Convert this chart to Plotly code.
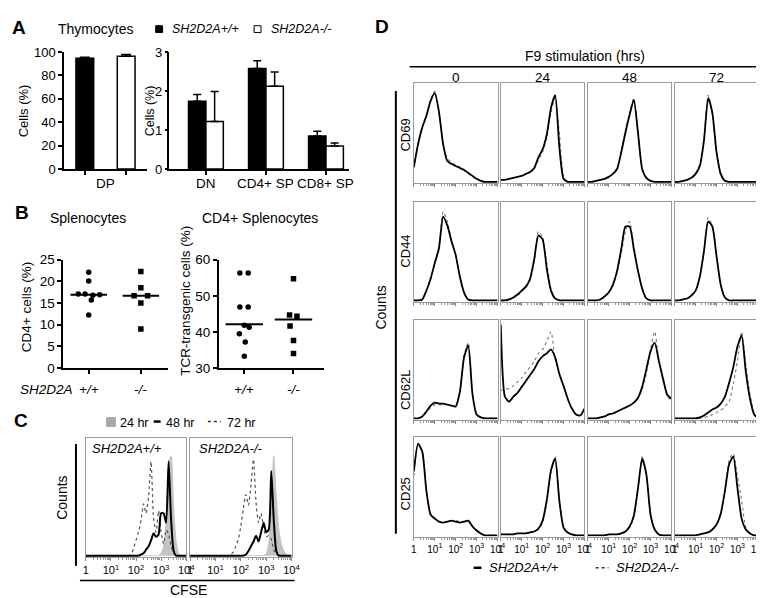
import plotly.graph_objects as go

W, H = 764, 598
FONT = "Liberation Sans, Arial, sans-serif"

# ---------------- Panel A data ----------------
a1_groups = ["DP"]
a1_wt = [94.8]
a1_wt_err = [0.7]
a1_ko = [96.4]
a1_ko_err = [1.4]
a1_ticks = [0, 20, 40, 60, 80, 100]

a2_groups = ["DN", "CD4+ SP", "CD8+ SP"]
a2_wt = [1.74, 2.58, 0.85]
a2_wt_err = [0.17, 0.20, 0.12]
a2_ko = [1.22, 2.12, 0.59]
a2_ko_err = [0.77, 0.37, 0.08]
a2_ticks = [0, 1, 2, 3]

# ---------------- Panel B data ----------------
b_genotypes = ["+/+", "-/-"]
b1_wt = [22.1, 20.1, 17.1, 17.1, 16.8, 16.9, 15.7, 12.2]
b1_wt_jit = [0.0, 0.0, -0.2, -0.07, 0.08, 0.21, 0.05, 0.0]
b1_ko = [22.3, 18.5, 16.7, 16.7, 15.0, 9.0]
b1_ko_jit = [0.0, 0.0, -0.13, 0.13, 0.0, 0.0]
b1_medians = [16.9, 16.7]
b1_ticks = [0, 5, 10, 15, 20, 25]

b2_wt = [56.3, 56.3, 46.9, 46.9, 41.8, 41.3, 39.5, 37.2, 33.2]
b2_wt_jit = [-0.09, 0.08, -0.09, 0.08, 0.0, 0.1, -0.1, 0.02, 0.0]
b2_ko = [54.7, 44.7, 44.3, 41.6, 37.6, 34.0]
b2_ko_jit = [0.0, -0.08, 0.07, -0.07, 0.0, 0.0]
b2_medians = [42.1, 43.4]
b2_ticks = [30, 40, 50, 60]

# ---------------- Panel C data (CFSE histograms, log10 scale) ----------------
c_x = [0.0, 0.1, 0.2, 0.3, 0.4, 0.5, 0.6, 0.7, 0.8, 0.9, 1.0, 1.1, 1.2, 1.3, 1.4,
       1.5, 1.6, 1.7, 1.8, 1.9, 2.0, 2.1, 2.2, 2.3, 2.4, 2.5, 2.6, 2.7, 2.8, 2.9,
       3.0, 3.1, 3.2, 3.3, 3.4, 3.5, 3.6, 3.7, 3.8, 3.9, 4.0]
c_wt_24 = [0, 0, 0, 0, 0, 0, 0, 0, 0, 0, 0, 0, 0, 0, 0, 0, 0, 0, 0, 0, 0, 0, 0, 0, 0, 0, 0, 0, 0, 0,
           0.02, 0.08, 0.30, 0.80, 0.85, 0.42, 0.12, 0.02, 0, 0, 0]
c_wt_48 = [0, 0, 0, 0, 0, 0, 0, 0, 0, 0, 0, 0, 0, 0, 0, 0, 0, 0, 0, 0, 0, 0,
           0.01, 0.02, 0.05, 0.08, 0.13, 0.19, 0.16, 0.18, 0.36, 0.36, 0.28, 0.80, 0.30, 0.04, 0, 0, 0, 0, 0]
c_wt_72 = [0, 0, 0, 0, 0, 0, 0, 0, 0, 0, 0, 0, 0, 0, 0, 0, 0, 0,
           0.01, 0.06, 0.13, 0.20, 0.30, 0.44, 0.36, 0.50, 0.80, 0.32, 0.20, 0.38, 0.20, 0.10,
           0.22, 0.18, 0.08, 0.02, 0, 0, 0, 0, 0]
c_ko_24 = [0, 0, 0, 0, 0, 0, 0, 0, 0, 0, 0, 0, 0, 0, 0, 0, 0, 0, 0, 0, 0, 0, 0, 0, 0, 0, 0, 0, 0, 0,
           0.02, 0.10, 0.45, 0.85, 0.50, 0.22, 0.10, 0.04, 0.01, 0, 0]
c_ko_48 = [0, 0, 0, 0, 0, 0, 0, 0, 0, 0, 0, 0, 0, 0, 0, 0, 0, 0, 0, 0, 0, 0,
           0.01, 0.04, 0.08, 0.12, 0.17, 0.12, 0.20, 0.28, 0.20, 0.22, 0.72, 0.30, 0.04, 0, 0, 0, 0, 0, 0]
c_ko_72 = [0, 0, 0, 0, 0, 0, 0, 0, 0, 0, 0, 0, 0, 0, 0, 0,
           0.01, 0.03, 0.08, 0.14, 0.25, 0.40, 0.52, 0.43, 0.60, 0.82, 0.45, 0.28, 0.36, 0.24,
           0.16, 0.17, 0.14, 0.05, 0.01, 0, 0, 0, 0, 0, 0]
c_tick_text = ["1", "10<sup>1</sup>", "10<sup>2</sup>", "10<sup>3</sup>", "10<sup>4</sup>"]

# ---------------- Panel D data (F9 stimulation histograms, log10 scale) ----------------
d_x = [0.0, 0.2, 0.4, 0.6, 0.8, 1.0, 1.2, 1.4, 1.6, 1.8, 2.0, 2.2, 2.4, 2.6, 2.8, 3.0, 3.2, 3.4, 3.6, 3.8, 4.0]
d_times = ["0", "24", "48", "72"]
d_markers = ["CD69", "CD44", "CD62L", "CD25"]

cd69_0_wt = [0.15, 0.38, 0.55, 0.67, 0.82, 0.90, 0.71, 0.38, 0.21, 0.18, 0.16, 0.14, 0.12, 0.09, 0.06, 0.03, 0.01, 0, 0, 0, 0]
cd69_0_ko = [0.14, 0.40, 0.56, 0.68, 0.84, 0.92, 0.70, 0.40, 0.23, 0.20, 0.17, 0.15, 0.12, 0.09, 0.06, 0.03, 0.01, 0, 0, 0, 0]
cd69_24_wt = [0.02, 0.02, 0.03, 0.04, 0.05, 0.06, 0.08, 0.10, 0.14, 0.25, 0.33, 0.48, 0.75, 0.88, 0.35, 0.03, 0, 0, 0, 0, 0]
cd69_24_ko = [0.02, 0.02, 0.03, 0.04, 0.05, 0.06, 0.08, 0.10, 0.13, 0.22, 0.30, 0.45, 0.70, 0.85, 0.50, 0.06, 0, 0, 0, 0, 0]
cd69_48_wt = [0, 0, 0.01, 0.02, 0.03, 0.05, 0.08, 0.13, 0.30, 0.50, 0.68, 0.83, 0.50, 0.13, 0.04, 0.01, 0, 0, 0, 0, 0]
cd69_48_ko = [0, 0, 0.01, 0.02, 0.03, 0.05, 0.08, 0.14, 0.32, 0.52, 0.70, 0.85, 0.48, 0.12, 0.04, 0.01, 0, 0, 0, 0, 0]
cd69_72_wt = [0, 0, 0.01, 0.02, 0.04, 0.08, 0.16, 0.42, 0.85, 0.70, 0.30, 0.08, 0.01, 0, 0, 0, 0, 0, 0, 0, 0]
cd69_72_ko = [0, 0, 0.01, 0.02, 0.04, 0.09, 0.18, 0.45, 0.88, 0.68, 0.28, 0.07, 0.01, 0, 0, 0, 0, 0, 0, 0, 0]

cd44_0_wt = [0, 0, 0.01, 0.10, 0.22, 0.38, 0.53, 0.85, 0.76, 0.60, 0.46, 0.24, 0.08, 0.01, 0, 0, 0, 0, 0, 0, 0]
cd44_0_ko = [0, 0, 0.01, 0.10, 0.22, 0.38, 0.55, 0.90, 0.80, 0.62, 0.46, 0.24, 0.08, 0.01, 0, 0, 0, 0, 0, 0, 0]
cd44_24_wt = [0, 0, 0.01, 0.03, 0.06, 0.10, 0.14, 0.22, 0.42, 0.66, 0.62, 0.32, 0.10, 0.02, 0, 0, 0, 0, 0, 0, 0]
cd44_24_ko = [0, 0, 0.01, 0.03, 0.05, 0.09, 0.13, 0.20, 0.40, 0.70, 0.64, 0.38, 0.12, 0.02, 0, 0, 0, 0, 0, 0, 0]
cd44_48_wt = [0, 0, 0, 0.01, 0.04, 0.08, 0.16, 0.30, 0.52, 0.75, 0.75, 0.52, 0.30, 0.12, 0.02, 0, 0, 0, 0, 0, 0]
cd44_48_ko = [0, 0, 0, 0.01, 0.04, 0.08, 0.15, 0.28, 0.48, 0.70, 0.80, 0.55, 0.30, 0.12, 0.02, 0, 0, 0, 0, 0, 0]
cd44_72_wt = [0, 0, 0.01, 0.02, 0.05, 0.10, 0.24, 0.50, 0.80, 0.75, 0.45, 0.16, 0.03, 0, 0, 0, 0, 0, 0, 0, 0]
cd44_72_ko = [0, 0, 0.01, 0.02, 0.05, 0.10, 0.24, 0.50, 0.84, 0.75, 0.44, 0.16, 0.03, 0, 0, 0, 0, 0, 0, 0, 0]

cd62l_0_wt = [0, 0, 0.02, 0.07, 0.13, 0.16, 0.15, 0.15, 0.14, 0.13, 0.12, 0.27, 0.62, 0.74, 0.25, 0.04, 0.01, 0, 0, 0, 0]
cd62l_0_ko = [0, 0, 0.02, 0.06, 0.11, 0.14, 0.14, 0.14, 0.14, 0.13, 0.13, 0.28, 0.64, 0.77, 0.26, 0.04, 0.01, 0, 0, 0, 0]
cd62l_24_wt = [0.95, 0.22, 0.17, 0.22, 0.26, 0.32, 0.38, 0.44, 0.50, 0.58, 0.63, 0.66, 0.70, 0.62, 0.45, 0.33, 0.20, 0.10, 0.04, 0.03, 0.10]
cd62l_24_ko = [0.28, 0.30, 0.30, 0.33, 0.37, 0.41, 0.47, 0.52, 0.58, 0.66, 0.70, 0.78, 0.88, 0.60, 0.46, 0.33, 0.20, 0.10, 0.04, 0.03, 0.08]
cd62l_48_wt = [0, 0, 0, 0.01, 0.02, 0.04, 0.05, 0.07, 0.09, 0.11, 0.13, 0.16, 0.21, 0.32, 0.50, 0.68, 0.77, 0.58, 0.40, 0.24, 0.20]
cd62l_48_ko = [0, 0, 0, 0.01, 0.02, 0.04, 0.05, 0.07, 0.09, 0.11, 0.13, 0.16, 0.20, 0.30, 0.45, 0.70, 0.88, 0.58, 0.38, 0.22, 0.18]
cd62l_72_wt = [0, 0, 0, 0, 0, 0, 0.01, 0.03, 0.06, 0.09, 0.11, 0.15, 0.22, 0.36, 0.52, 0.73, 0.84, 0.47, 0.20, 0.04, 0]
cd62l_72_ko = [0, 0, 0, 0, 0, 0, 0, 0.01, 0.02, 0.04, 0.06, 0.08, 0.12, 0.17, 0.35, 0.58, 0.88, 0.55, 0.25, 0.05, 0]

cd25_0_wt = [0.65, 0.93, 0.85, 0.45, 0.21, 0.17, 0.14, 0.13, 0.14, 0.15, 0.14, 0.13, 0.14, 0.15, 0.09, 0.05, 0.02, 0, 0, 0, 0]
cd25_0_ko = [0.60, 0.92, 0.86, 0.46, 0.22, 0.17, 0.14, 0.13, 0.14, 0.15, 0.15, 0.14, 0.14, 0.15, 0.10, 0.05, 0.02, 0, 0, 0, 0]
cd25_24_wt = [0.01, 0.01, 0.01, 0.01, 0.02, 0.02, 0.02, 0.03, 0.04, 0.07, 0.15, 0.36, 0.66, 0.78, 0.35, 0.08, 0.03, 0.01, 0, 0, 0]
cd25_24_ko = [0.01, 0.01, 0.01, 0.01, 0.02, 0.02, 0.02, 0.03, 0.04, 0.06, 0.13, 0.33, 0.64, 0.80, 0.38, 0.08, 0.03, 0.01, 0, 0, 0]
cd25_48_wt = [0, 0, 0, 0, 0, 0.01, 0.01, 0.01, 0.02, 0.04, 0.09, 0.20, 0.48, 0.78, 0.62, 0.21, 0.06, 0.01, 0, 0, 0]
cd25_48_ko = [0, 0, 0, 0, 0, 0.01, 0.01, 0.01, 0.02, 0.04, 0.08, 0.19, 0.46, 0.80, 0.62, 0.20, 0.06, 0.01, 0, 0, 0]
cd25_72_wt = [0, 0, 0, 0, 0, 0, 0.01, 0.02, 0.03, 0.06, 0.11, 0.22, 0.45, 0.72, 0.80, 0.48, 0.17, 0.06, 0.02, 0, 0]
cd25_72_ko = [0, 0, 0, 0, 0, 0, 0.01, 0.02, 0.03, 0.06, 0.11, 0.22, 0.44, 0.76, 0.83, 0.60, 0.35, 0.08, 0.02, 0, 0]

d_table = [
    [(cd69_0_wt, cd69_0_ko), (cd69_24_wt, cd69_24_ko), (cd69_48_wt, cd69_48_ko), (cd69_72_wt, cd69_72_ko)],
    [(cd44_0_wt, cd44_0_ko), (cd44_24_wt, cd44_24_ko), (cd44_48_wt, cd44_48_ko), (cd44_72_wt, cd44_72_ko)],
    [(cd62l_0_wt, cd62l_0_ko), (cd62l_24_wt, cd62l_24_ko), (cd62l_48_wt, cd62l_48_ko), (cd62l_72_wt, cd62l_72_ko)],
    [(cd25_0_wt, cd25_0_ko), (cd25_24_wt, cd25_24_ko), (cd25_48_wt, cd25_48_ko), (cd25_72_wt, cd25_72_ko)],
]

# ---------------- figure scaffolding ----------------
fig = go.Figure()
layout = dict(width=W, height=H, margin=dict(l=0, r=0, t=0, b=0),
              paper_bgcolor="white", plot_bgcolor="rgba(0,0,0,0)",
              showlegend=False, barmode="overlay",
              font=dict(family=FONT, color="black", size=12))
annotations = []
shapes = []
_n = [0]


def new_axes(x0, x1, y0, y1, xopts, yopts):
    _n[0] += 1
    s = "" if _n[0] == 1 else str(_n[0])
    layout["xaxis" + s] = dict(domain=[x0 / W, x1 / W], anchor="y" + s, **xopts)
    layout["yaxis" + s] = dict(domain=[1 - y1 / H, 1 - y0 / H], anchor="x" + s, **yopts)
    return "x" + s, "y" + s


def ann(text, x, y, size=13, bold=False, italic=False, angle=0, xanchor="center", xref="paper"):
    if bold:
        text = "<b>" + text + "</b>"
    if italic:
        text = "<i>" + text + "</i>"
    annotations.append(dict(text=text, x=(x / W if xref == "paper" else x), y=1 - y / H,
                            xref=xref, yref="paper", showarrow=False, textangle=angle,
                            xanchor=xanchor, yanchor="middle",
                            font=dict(family=FONT, size=size, color="black")))


def pline(x0, y0, x1, y1, color="black", width=1.5, dash="solid"):
    shapes.append(dict(type="line", xref="paper", yref="paper", x0=x0 / W, x1=x1 / W,
                       y0=1 - y0 / H, y1=1 - y1 / H, line=dict(color=color, width=width, dash=dash)))


def prect(x0, y0, x1, y1, fill, line="black"):
    shapes.append(dict(type="rect", xref="paper", yref="paper", x0=x0 / W, x1=x1 / W,
                       y0=1 - y1 / H, y1=1 - y0 / H, fillcolor=fill, line=dict(color=line, width=1)))


AX = dict(showline=True, linecolor="black", linewidth=1.5, ticks="outside", ticklen=4,
          tickwidth=1.5, tickcolor="black", showgrid=False, zeroline=False)

# ================= Panel A =================
xa, ya = new_axes(54, 138, 38, 158,
                  dict(AX, range=[-0.5, 1.5], tickvals=[0, 1], showticklabels=False),
                  dict(AX, range=[0, 100], tickvals=a1_ticks, tickfont=dict(size=13)))
fig.add_trace(go.Bar(x=[0], y=a1_wt, width=0.43, xaxis=xa, yaxis=ya,
                     marker=dict(color="black", line=dict(color="black", width=1.5)),
                     error_y=dict(type="data", symmetric=False, array=a1_wt_err, arrayminus=[0],
                                  color="black", thickness=1.5, width=5)))
fig.add_trace(go.Bar(x=[1], y=a1_ko, width=0.43, xaxis=xa, yaxis=ya,
                     marker=dict(color="white", line=dict(color="black", width=1.5)),
                     error_y=dict(type="data", symmetric=False, array=a1_ko_err, arrayminus=[0],
                                  color="black", thickness=1.5, width=5)))
ann(a1_groups[0], 96, 173, 13.5)

xa, ya = new_axes(161, 343, 38, 158,
                  dict(AX, type="category", range=[-0.607, 2.377], showticklabels=False),
                  dict(AX, range=[0, 3], tickvals=a2_ticks, ticklen=3, tickfont=dict(size=13)))
bw = 0.29
fig.add_trace(go.Bar(x=a2_groups, y=a2_wt, width=bw, offset=-bw, xaxis=xa, yaxis=ya,
                     marker=dict(color="black", line=dict(color="black", width=1.5)),
                     error_y=dict(type="data", symmetric=False, array=a2_wt_err, arrayminus=[0, 0, 0],
                                  color="black", thickness=1.5, width=4)))
fig.add_trace(go.Bar(x=a2_groups, y=a2_ko, width=bw, offset=0, xaxis=xa, yaxis=ya,
                     marker=dict(color="white", line=dict(color="black", width=1.5)),
                     error_y=dict(type="data", symmetric=False, array=a2_ko_err, arrayminus=[0, 0, 0],
                                  color="black", thickness=1.5, width=4)))
for i, g in enumerate(a2_groups):
    ann(g, 198 + 61 * i, 173, 13.5)

ann("A", 8, 13, 19, bold=True)
ann("Thymocytes", 86, 14, 14)
prect(147, 11, 154, 18, "black")
ann("SH2D2A+/+", 162, 14, 12.5, italic=True, xanchor="left")
prect(247, 11, 254, 18, "white")
ann("SH2D2A-/-", 262, 14, 12.5, italic=True, xanchor="left")
ann("Cells (%)", 13, 98, 13, angle=-90)
ann("Cells (%)", 141, 98, 12.5, angle=-90)

# ================= Panel B =================
xa, ya = new_axes(53, 160, 251, 362,
                  dict(AX, range=[-0.49, 1.53], tickvals=[0, 1], showticklabels=False),
                  dict(AX, range=[0, 25], tickvals=b1_ticks, tickfont=dict(size=13.5)))
fig.add_trace(go.Scatter(x=[0 + j for j in b1_wt_jit], y=b1_wt, mode="markers", xaxis=xa, yaxis=ya,
                         marker=dict(symbol="circle", size=5.5, color="black")))
fig.add_trace(go.Scatter(x=[1 + j for j in b1_ko_jit], y=b1_ko, mode="markers", xaxis=xa, yaxis=ya,
                         marker=dict(symbol="square", size=5.5, color="black")))
for i, m in enumerate(b1_medians):
    fig.add_trace(go.Scatter(x=[i - 0.35, i + 0.35], y=[m, m], mode="lines", xaxis=xa, yaxis=ya,
                             line=dict(color="black", width=2)))
for i, g in enumerate(b_genotypes):
    annotations.append(dict(text="<i>" + g + "</i>", x=i, y=1 - 384 / H, xref=xa, yref="paper",
                            showarrow=False, font=dict(family=FONT, size=13.5, color="black")))

xa, ya = new_axes(211, 318, 251, 362,
                  dict(AX, range=[-0.52, 1.62], tickvals=[0, 1], showticklabels=False),
                  dict(AX, range=[30, 60], tickvals=b2_ticks, tickfont=dict(size=13.5)))
fig.add_trace(go.Scatter(x=[0 + j for j in b2_wt_jit], y=b2_wt, mode="markers", xaxis=xa, yaxis=ya,
                         marker=dict(symbol="circle", size=5.5, color="black")))
fig.add_trace(go.Scatter(x=[1 + j for j in b2_ko_jit], y=b2_ko, mode="markers", xaxis=xa, yaxis=ya,
                         marker=dict(symbol="square", size=5.5, color="black")))
for i, m in enumerate(b2_medians):
    fig.add_trace(go.Scatter(x=[i - 0.38, i + 0.38], y=[m, m], mode="lines", xaxis=xa, yaxis=ya,
                             line=dict(color="black", width=2)))
for i, g in enumerate(b_genotypes):
    annotations.append(dict(text="<i>" + g + "</i>", x=i, y=1 - 384 / H, xref=xa, yref="paper",
                            showarrow=False, font=dict(family=FONT, size=13.5, color="black")))

ann("B", 11, 203, 19, bold=True)
ann("Splenocytes", 78, 208, 14)
ann("CD4+ Splenocytes", 253, 208, 14)
ann("CD4+ cells (%)", 16, 300, 13.5, angle=-90)
ann("TCR-transgenic cells (%)", 177, 293, 13.5, angle=-90)
ann("SH2D2A", 36, 384, 13.5, italic=True)

# ================= histogram axis styles =================
minor_vals = []
for d in range(4):
    for k in [0.301, 0.477, 0.602, 0.699, 0.778, 0.845, 0.903, 0.954]:
        minor_vals.append(d + k)


def hist_x(labels, tsize):
    opts = dict(range=[0, 4], showline=True, mirror=True, linecolor="#9a9a9a", linewidth=1,
                showgrid=False, zeroline=False, ticks="outside", ticklen=3, tickcolor="#8a8a8a",
                tickvals=[0, 1, 2, 3, 4], showticklabels=labels,
                minor=dict(tickvals=minor_vals, ticks="outside", ticklen=2, tickcolor="#9a9a9a"))
    if labels:
        opts["ticktext"] = c_tick_text
        opts["tickfont"] = dict(size=tsize)
    return opts


HY = dict(range=[-0.012, 1.0], showline=True, mirror=True, linecolor="#9a9a9a", linewidth=1,
          showgrid=False, zeroline=False, showticklabels=False, ticks="")

# ================= Panel C =================
c_boxes = [(76, 178), (182, 285)]
c_series = [(c_wt_24, c_wt_48, c_wt_72), (c_ko_24, c_ko_48, c_ko_72)]
for (x0, x1), (s24, s48, s72) in zip(c_boxes, c_series):
    xa, ya = new_axes(x0, x1, 434, 556, hist_x(True, 11), HY)
    fig.add_trace(go.Scatter(x=c_x, y=s24, mode="lines", xaxis=xa, yaxis=ya, fill="tozeroy",
                             fillcolor="#c4c4c4", line=dict(color="#bdbdbd", width=0.8, shape="spline", smoothing=0.6)))
    fig.add_trace(go.Scatter(x=c_x, y=s72, mode="lines", xaxis=xa, yaxis=ya,
                             line=dict(color="#555555", width=1.2, dash="dot", shape="spline", smoothing=0.6)))
    fig.add_trace(go.Scatter(x=c_x, y=s48, mode="lines", xaxis=xa, yaxis=ya,
                             line=dict(color="black", width=2, shape="spline", smoothing=0.6)))

ann("C", 10, 416, 19, bold=True)
prect(97, 413, 106, 422, "#a8a8a8", line="#a8a8a8")
ann("24 hr", 109, 418, 12.5, xanchor="left")
pline(145, 417, 152, 417, width=2.5)
ann("48 hr", 155, 418, 12.5, xanchor="left")
pline(200, 417, 213, 417, color="#333333", width=1.5, dash="dot")
ann("72 hr", 217, 418, 12.5, xanchor="left")
ann("SH2D2A+/+", 80, 445, 13, italic=True, xanchor="left")
ann("SH2D2A-/-", 189, 445, 13, italic=True, xanchor="left")
pline(66, 440, 66, 565, width=2)
ann("Counts", 51, 495, 14, angle=-90)
pline(70, 580, 288, 580, width=1.5)
ann("CFSE", 180, 590, 14)

# ================= Panel D =================
col_x0 = [409.3, 497.6, 586.0, 674.3]
row_y0 = [70.0, 191.7, 312.7, 432.7]
col_w = 85.0
row_h = 102.3
for r in range(4):
    for c in range(4):
        wt, ko = d_table[r][c]
        xa, ya = new_axes(col_x0[c], col_x0[c] + col_w, row_y0[r], row_y0[r] + row_h,
                          hist_x(r == 3, 10), HY)
        fig.add_trace(go.Scatter(x=d_x, y=ko, mode="lines", xaxis=xa, yaxis=ya,
                                 line=dict(color="#777777", width=1.1, dash="dot", shape="spline", smoothing=0.6)))
        fig.add_trace(go.Scatter(x=d_x, y=wt, mode="lines", xaxis=xa, yaxis=ya,
                                 line=dict(color="black", width=1.8, shape="spline", smoothing=0.6)))

ann("D", 377, 12, 19, bold=True)
ann("F9 stimulation (hrs)", 583, 42, 14)
pline(405, 53, 758, 53, width=1.5)
for c, t in enumerate(d_times):
    ann(t, col_x0[c] + col_w / 2, 64.5, 13.5)
row_label_y = [123, 242, 385, 491]
for r, m in enumerate(d_markers):
    ann(m, 401, row_label_y[r], 13, angle=-90)
pline(391, 78, 391, 532, width=2)
ann("Counts", 376, 300, 14, angle=-90)
pline(470, 567, 478, 567, width=2.5)
ann("SH2D2A+/+", 484, 567, 13, italic=True, xanchor="left")
pline(594, 567, 607, 567, color="#333333", width=1.5, dash="dot")
ann("SH2D2A-/-", 613, 567, 13, italic=True, xanchor="left")

layout["annotations"] = annotations
layout["shapes"] = shapes
fig.update_layout(**layout)
fig.write_html("out.html")
